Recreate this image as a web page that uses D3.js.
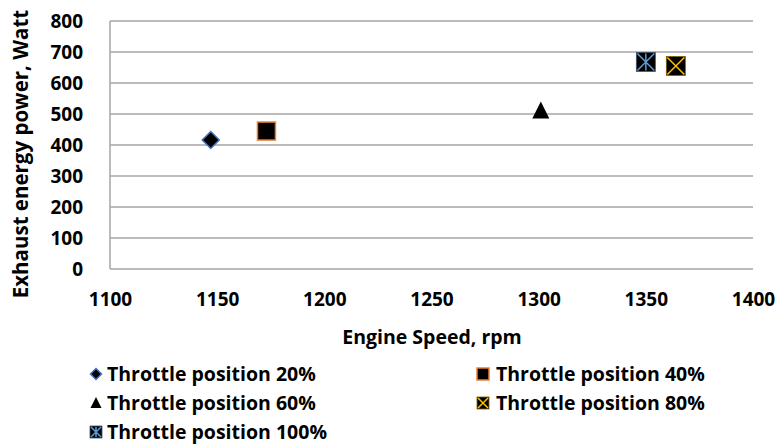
<!DOCTYPE html>
<html><head><meta charset="utf-8">
<script src="https://cdn.jsdelivr.net/npm/d3@7"></script>
<style>body{margin:0;background:#fff}text{font-family:"Open Sans",sans-serif;font-weight:700;fill:#000}</style>
</head><body><svg id="c" width="779" height="448"></svg>
<script>
const seriesNames = ["Throttle position 20%","Throttle position 40%","Throttle position 60%","Throttle position 80%","Throttle position 100%"];
const rpmValues = [1147, 1173, 1301, 1364, 1350];
const powerValues = [416, 445, 510, 655, 668];
const xTicks = [1100,1150,1200,1250,1300,1350,1400];
const yTicks = [0,100,200,300,400,500,600,700,800];

const svg = d3.select("#c");
const L=110, R=753, T=21, B=269;
const x = d3.scaleLinear().domain([1100,1400]).range([L,R]);
const y = d3.scaleLinear().domain([0,800]).range([B,T]);

svg.append("g").selectAll("line").data(yTicks.filter(d=>d>0)).join("line")
  .attr("x1",L).attr("x2",R).attr("y1",d=>y(d)).attr("y2",d=>y(d))
  .attr("stroke","#a6a6a6").attr("stroke-width",1.5);
svg.append("line").attr("x1",L).attr("x2",R).attr("y1",B).attr("y2",B).attr("stroke","#a6a6a6").attr("stroke-width",1.5);
svg.append("line").attr("x1",L).attr("x2",L).attr("y1",T).attr("y2",B).attr("stroke","#a6a6a6").attr("stroke-width",1.5);

const yAx = svg.append("g").attr("transform",`translate(${L},0)`).call(d3.axisLeft(y).tickValues(yTicks).tickSize(0).tickPadding(27));
const xAx = svg.append("g").attr("transform",`translate(0,${B})`).call(d3.axisBottom(x).tickValues(xTicks).tickSize(0).tickFormat(d3.format("d")));
[yAx,xAx].forEach(a=>{a.select(".domain").remove();a.selectAll("text").style("font-size","19px").style("font-family","'Open Sans',sans-serif").style("font-weight","700").attr("fill","#000");});
yAx.selectAll("text").attr("dy","0.35em");
xAx.selectAll("text").attr("y",30).attr("dy","0.35em");

svg.append("text").attr("x",432).attr("y",344).attr("text-anchor","middle").style("font-size","19.5px").text("Engine Speed, rpm");
svg.append("text").attr("transform","translate(28,154) rotate(-90)").attr("text-anchor","middle").style("font-size","20.5px").text("Exhaust energy power, Watt");

function marker(g, i, s){
  if(i===0){
    g.append("path").attr("d",`M0,${-s/2}L${s/2},0L0,${s/2}L${-s/2},0Z`).attr("fill","#000").attr("stroke","#4472c4").attr("stroke-width",1.5);
  } else if(i===1){
    g.append("rect").attr("x",-s/2).attr("y",-s/2).attr("width",s).attr("height",s).attr("fill","#000").attr("stroke","#ed7d31").attr("stroke-width",1.5);
  } else if(i===2){
    g.append("path").attr("d",`M0,${-s*0.55}L${s*0.5},${s*0.45}L${-s*0.5},${s*0.45}Z`).attr("fill","#000");
  } else if(i===3){
    g.append("rect").attr("x",-s/2).attr("y",-s/2).attr("width",s).attr("height",s).attr("fill","#000").attr("stroke","#7f6000").attr("stroke-width",0.8);
    const h=s/2-1;
    g.append("path").attr("d",`M${-h},${-h}L${h},${h}M${h},${-h}L${-h},${h}`).attr("stroke","#ffc000").attr("stroke-width",1.5);
  } else {
    g.append("rect").attr("x",-s/2).attr("y",-s/2).attr("width",s).attr("height",s).attr("fill","#000").attr("stroke","#44546a").attr("stroke-width",0.8);
    const h=s/2-1;
    g.append("path").attr("d",`M${-h},${-h}L${h},${h}M${h},${-h}L${-h},${h}M0,${-h}L0,${h}`).attr("stroke","#5b9bd5").attr("stroke-width",1.5);
  }
}
const sizes=[17,18,17,19,19];
seriesNames.forEach((n,i)=>{
  const g=svg.append("g").attr("transform",`translate(${x(rpmValues[i])},${y(powerValues[i])})`);
  marker(g,i,sizes[i]);
});

const legPos=[[96,374],[483,374],[96,403],[483,403],[96,432]];
seriesNames.forEach((n,i)=>{
  const [lx,ly]=legPos[i];
  const g=svg.append("g").attr("transform",`translate(${lx},${ly})`);
  marker(g,i,i===0?11:(i===2?11:12));
  g.append("text").attr("x",i%2===1?13:11).attr("y",0).attr("dy","0.35em").style("font-size","19.5px").text(n);
});
</script></body></html>
